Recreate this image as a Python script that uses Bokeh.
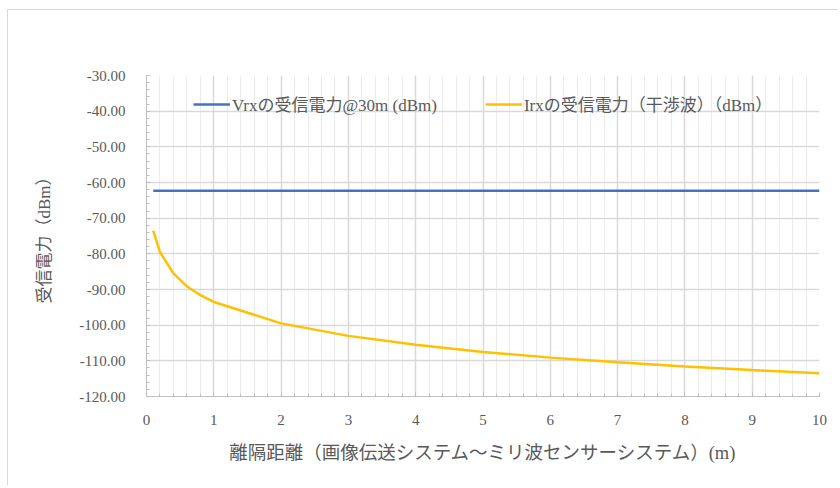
from bokeh.plotting import figure
from bokeh.models import FixedTicker, NumeralTickFormatter, Legend, LegendItem, Range1d
from bokeh.embed import file_html
from bokeh.resources import INLINE
import numpy as np

# data
distance_m = [0.1, 0.2, 0.4, 0.6, 0.8, 1, 2, 3, 4, 5, 6, 7, 8, 9, 10]
vrx_dbm = [-62.3] * len(distance_m)
irx_dbm = [-73.5, -79.5, -85.5, -89.1, -91.6, -93.5, -99.5, -103.0, -105.5,
           -107.5, -109.1, -110.4, -111.6, -112.6, -113.5]
x_ticks = [0, 1, 2, 3, 4, 5, 6, 7, 8, 9, 10]
y_ticks = [-120, -110, -100, -90, -80, -70, -60, -50, -40, -30]

legend_vrx = "Vrxの受信電力@30m (dBm)"
legend_irx = "Irxの受信電力（干渉波）（dBm）"
x_title = "離隔距離（画像伝送システム～ミリ波センサーシステム）(m)"
y_title = "受信電力（dBm）"

FONT = "Liberation Serif, Noto Sans CJK JP"
TXT = "#595959"

p = figure(width=831, height=476, output_backend="svg", toolbar_location=None,
           x_range=Range1d(0, 10), y_range=Range1d(-120, -30),
           min_border_left=138, min_border_right=20, min_border_top=65,
           min_border_bottom=90)
p.styles = {"margin-left": "7px", "margin-top": "9px",
            "border-left": "1px solid #d9d9d9", "border-top": "1px solid #d9d9d9"}
p.outline_line_color = None
p.background_fill_color = "white"
p.border_fill_color = "white"

x_minor = [round(v, 2) for v in np.arange(0, 10.01, 0.2)]
y_minor = [round(v, 2) for v in np.arange(-120, -29.9, 2)]
p.xaxis.ticker = FixedTicker(ticks=x_ticks, minor_ticks=x_minor)
p.yaxis.ticker = FixedTicker(ticks=y_ticks, minor_ticks=y_minor)
p.yaxis.formatter = NumeralTickFormatter(format="0.00")

for ax in (p.xaxis[0], p.yaxis[0]):
    ax.axis_line_color = "#bfbfbf"
    ax.major_tick_line_color = "#bfbfbf"
    ax.minor_tick_line_color = "#bfbfbf"
    ax.major_tick_in = 4
    ax.major_tick_out = 0
    ax.minor_tick_in = 3
    ax.minor_tick_out = 0
    ax.major_label_text_font = FONT
    ax.major_label_text_font_size = "15px"
    ax.major_label_text_color = TXT
    ax.axis_label_text_font = FONT
    ax.axis_label_text_color = TXT
    ax.axis_label_text_font_style = "normal"

p.xaxis.axis_label = x_title
p.yaxis.axis_label = y_title
p.xaxis.axis_label_text_font_size = "18.5px"
p.yaxis.axis_label_text_font_size = "17px"
p.xaxis.major_label_standoff = 18
p.xaxis.axis_label_standoff = 15
p.yaxis.major_label_standoff = 21
p.yaxis.axis_label_standoff = 22

p.xgrid.grid_line_color = "#d9d9d9"
p.xgrid.grid_line_width = 1.5
p.xgrid.minor_grid_line_color = "#ececec"
p.xgrid.minor_grid_line_width = 1
p.ygrid.grid_line_color = "#d9d9d9"
p.ygrid.grid_line_width = 1.5

r1 = p.line(distance_m, vrx_dbm, line_color="#4472C4", line_width=2.5)
r2 = p.line(distance_m, irx_dbm, line_color="#FFC000", line_width=2.5)

legend = Legend(items=[LegendItem(label=legend_vrx, renderers=[r1]),
                       LegendItem(label=legend_irx, renderers=[r2])],
                orientation="horizontal", location=(47, 280),
                background_fill_alpha=0, border_line_color=None,
                padding=0, margin=0, spacing=48, glyph_width=37,
                glyph_height=20, label_height=20, label_standoff=2,
                label_text_font=FONT, label_text_font_size="17px",
                label_text_color=TXT)
p.add_layout(legend, "center")

open("out.html", "w").write(file_html(p, INLINE))
